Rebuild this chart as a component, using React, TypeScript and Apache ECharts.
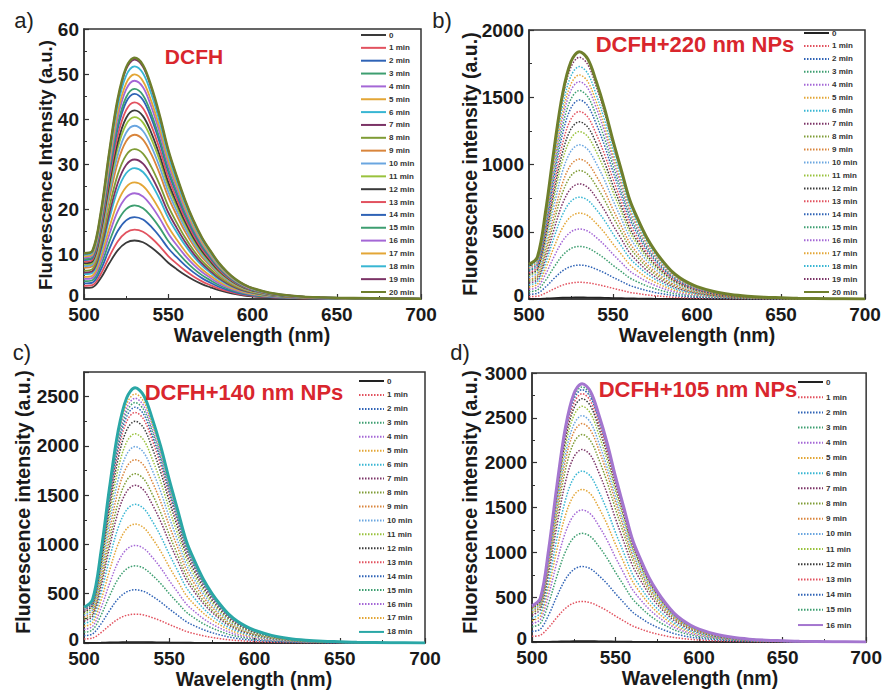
import React, { useEffect, useRef } from 'react';
import * as echarts from 'echarts';

// ---------- data ----------
const WAVELENGTHS = [500, 505, 510, 515, 520, 525, 530, 535, 540, 545, 550, 555, 560, 565, 570, 575, 580, 585, 590, 595, 600, 610, 620, 630, 640, 650, 660, 680, 700];

const PROFILE_DCFH = [0.19, 0.2, 0.36, 0.61, 0.83, 0.96, 1.0, 0.97, 0.88, 0.76, 0.62, 0.51, 0.41, 0.325, 0.255, 0.2, 0.15, 0.112, 0.082, 0.06, 0.045, 0.026, 0.016, 0.01, 0.007, 0.005, 0.004, 0.002, 0.001];
const PROFILE_NP = [0.14, 0.17, 0.36, 0.61, 0.83, 0.96, 1.0, 0.97, 0.88, 0.77, 0.64, 0.52, 0.4, 0.32, 0.25, 0.195, 0.15, 0.112, 0.085, 0.065, 0.05, 0.03, 0.018, 0.011, 0.007, 0.005, 0.003, 0.001, 0.0];

// peak intensity (at ~530 nm) of each time point
const PEAKS_A = [13.0, 15.4, 18.2, 20.8, 23.5, 25.9, 29.1, 31.0, 33.3, 36.5, 38.5, 40.4, 41.9, 43.7, 45.6, 46.7, 48.5, 49.9, 51.7, 53.2, 53.6];
const PEAKS_B = [12, 124, 252, 391, 520, 639, 757, 856, 955, 1040, 1146, 1245, 1317, 1394, 1480, 1550, 1616, 1666, 1728, 1797, 1839];
const PEAKS_C = [10, 293, 540, 783, 990, 1207, 1407, 1600, 1717, 1860, 1993, 2123, 2250, 2340, 2393, 2440, 2483, 2527, 2590];
const PEAKS_D = [10, 452, 842, 1212, 1472, 1702, 1906, 2147, 2314, 2436, 2525, 2629, 2714, 2770, 2814, 2844, 2881];

const TIME_LABELS = ['0', '1 min', '2 min', '3 min', '4 min', '5 min', '6 min', '7 min', '8 min', '9 min', '10 min', '11 min', '12 min', '13 min', '14 min', '15 min', '16 min', '17 min', '18 min', '19 min', '20 min'];

const X_TICKS = { min: 500, max: 700, interval: 50 };
const Y_MAX = [60, 2000, 2750, 3000];
const Y_INTERVAL = [10, 500, 500, 500];

const PANEL_TITLES = ['DCFH', 'DCFH+220 nm NPs', 'DCFH+140 nm NPs', 'DCFH+105 nm NPs'];
const PANEL_LETTERS = ['a)', 'b)', 'c)', 'd)'];
const Y_TITLES = ['Fluorescence Intensity (a.u.)', 'Fluorescence intensity (a.u.)', 'Fluorescence intensity (a.u.)', 'Fluorescence intensity (a.u.)'];
const X_TITLE = 'Wavelength (nm)';

// ---------- styling / layout ----------
const PALETTE = ['#3a3a3a', '#e2525f', '#2f63b6', '#3d9e70', '#a467d6', '#e3a636', '#38b6d3', '#7b3366', '#7f9c35', '#d9853c', '#6aa6e0', '#99c23c'];
const LAST_COLORS = ['#6f7f2c', '#6f7f2c', '#2aa7a6', '#a476cf'];
const FONT = "'Liberation Sans', Arial, sans-serif";

const PANELS = [
  { key: 'a', peaks: PEAKS_A, profile: PROFILE_DCFH, dotted: false,
    grid: { left: 84, top: 29, width: 337, height: 270 },
    legend: { left: 360, top: 31, spacing: 12.85 },
    titlePos: [194, 56], letterPos: [24, 20], yTitlePos: [45, 165], xTitlePos: [252, 335] },
  { key: 'b', peaks: PEAKS_B, profile: PROFILE_NP, dotted: true,
    grid: { left: 529, top: 30, width: 336, height: 269 },
    legend: { left: 803, top: 29, spacing: 12.95 },
    titlePos: [695, 44], letterPos: [442, 20], yTitlePos: [470, 164], xTitlePos: [697, 335] },
  { key: 'c', peaks: PEAKS_C, profile: PROFILE_NP, dotted: true,
    grid: { left: 84, top: 372, width: 341, height: 271 },
    legend: { left: 358, top: 377, spacing: 13.94 },
    titlePos: [244, 392], letterPos: [22, 352], yTitlePos: [23, 502], xTitlePos: [254, 679] },
  { key: 'd', peaks: PEAKS_D, profile: PROFILE_NP, dotted: true,
    grid: { left: 532, top: 373, width: 336, height: 269 },
    legend: { left: 797, top: 378, spacing: 15.19 },
    titlePos: [698, 389], letterPos: [460, 352], yTitlePos: [470, 502], xTitlePos: [700, 678] },
];

function buildOption() {
  const grids: any[] = [];
  const xAxes: any[] = [];
  const yAxes: any[] = [];
  const series: any[] = [];
  const legends: any[] = [];
  const graphics: any[] = [];

  PANELS.forEach((p, i) => {
    grids.push({ ...p.grid, show: true, borderColor: '#333', borderWidth: 1.5, backgroundColor: 'transparent' });
    xAxes.push({
      type: 'value', gridIndex: i, min: X_TICKS.min, max: X_TICKS.max, interval: X_TICKS.interval,
      axisLine: { show: true, lineStyle: { color: '#333', width: 1.5 } },
      axisTick: { show: true, inside: true, length: 5, lineStyle: { color: '#333', width: 1.2 } },
      minorTick: { show: true, splitNumber: 2, length: 3, lineStyle: { color: '#333', width: 1 } },
      splitLine: { show: false },
      axisLabel: { fontSize: 19, lineHeight: 15, fontWeight: 'bold', color: '#1a1a1a', fontFamily: FONT, margin: 8 },
    });
    const yi = Y_INTERVAL[i];
    yAxes.push({
      type: 'value', gridIndex: i, min: 0, max: Y_MAX[i], interval: yi,
      axisLine: { show: true, lineStyle: { color: '#333', width: 1.5 } },
      axisTick: { show: true, inside: true, length: 5, lineStyle: { color: '#333', width: 1.2 } },
      minorTick: { show: true, splitNumber: 2, length: 3, lineStyle: { color: '#333', width: 1 } },
      splitLine: { show: false },
      axisLabel: {
        fontSize: 19, lineHeight: 13, fontWeight: 'bold', color: '#1a1a1a', fontFamily: FONT, margin: 5,
        formatter: (v: number) => (v === 0 ? '{z|0}' : v % yi === 0 ? String(v) : ''),
        rich: { z: { fontSize: 19, lineHeight: 13, fontWeight: 'bold', color: '#1a1a1a', fontFamily: FONT, padding: [0, 0, 8, 0] } },
      },
    });

    const names: string[] = [];
    const n = p.peaks.length;
    p.peaks.forEach((peak, k) => {
      const name = `${p.key}|${TIME_LABELS[k]}`;
      names.push(name);
      let color = PALETTE[k % PALETTE.length];
      let width = 1.8;
      let type: any = 'solid';
      if (p.dotted) {
        if (k === 0) { color = '#222'; width = 1.6; }
        else if (k === n - 1) { color = LAST_COLORS[i]; width = 3; }
        else { width = 1.5; type = [1.5, 1.5]; }
      } else if (k === n - 1) {
        color = LAST_COLORS[i]; width = 2.4;
      }
      series.push({
        type: 'line', name, xAxisIndex: i, yAxisIndex: i,
        data: WAVELENGTHS.map((w, j) => [w, +(p.profile[j] * peak).toFixed(3)]),
        symbol: 'none', smooth: 0.35,
        lineStyle: { color, width, type },
        itemStyle: { color },
        z: 2 + k,
      });
    });

    legends.push({
      data: names, orient: 'vertical', left: p.legend.left, top: p.legend.top,
      itemWidth: 25, itemHeight: 8, itemGap: p.legend.spacing - 8, padding: 0,
      selectedMode: false,
      itemStyle: { opacity: 0 },
      formatter: (nm: string) => nm.split('|')[1],
      textStyle: { fontSize: 8, lineHeight: 8, fontWeight: 'bold', color: '#333', fontFamily: FONT, padding: [0, 0, 0, -2] },
    });

    graphics.push(
      { type: 'text', x: p.titlePos[0], y: p.titlePos[1], z: 100,
        style: { text: PANEL_TITLES[i], fill: '#d9262d', font: `bold ${i === 0 ? 21 : 22}px ${FONT}`, textAlign: 'center', textVerticalAlign: 'middle' } },
      { type: 'text', x: p.letterPos[0], y: p.letterPos[1], z: 100,
        style: { text: PANEL_LETTERS[i], fill: '#222', font: `22px ${FONT}`, textAlign: 'center', textVerticalAlign: 'middle' } },
      { type: 'text', x: p.yTitlePos[0], y: p.yTitlePos[1], rotation: Math.PI / 2, z: 100,
        style: { text: Y_TITLES[i], fill: '#1a1a1a', font: `bold ${i === 0 ? 18.5 : 19.5}px ${FONT}`, textAlign: 'center', textVerticalAlign: 'middle' } },
      { type: 'text', x: p.xTitlePos[0], y: p.xTitlePos[1], z: 100,
        style: { text: X_TITLE, fill: '#1a1a1a', font: `bold 19.5px ${FONT}`, textAlign: 'center', textVerticalAlign: 'middle' } },
    );
  });

  return {
    animation: false,
    backgroundColor: '#ffffff',
    grid: grids,
    xAxis: xAxes,
    yAxis: yAxes,
    legend: legends,
    series,
    graphic: graphics,
  };
}

export default function App() {
  const ref = useRef<HTMLDivElement>(null);
  useEffect(() => {
    if (!ref.current) return;
    const chart = echarts.init(ref.current, undefined, { renderer: 'svg' });
    chart.setOption(buildOption());
    return () => chart.dispose();
  }, []);
  return (
    <div
      ref={ref}
      style={{ position: 'absolute', left: 0, top: 0, width: 885, height: 695, background: '#fff' }}
    />
  );
}
